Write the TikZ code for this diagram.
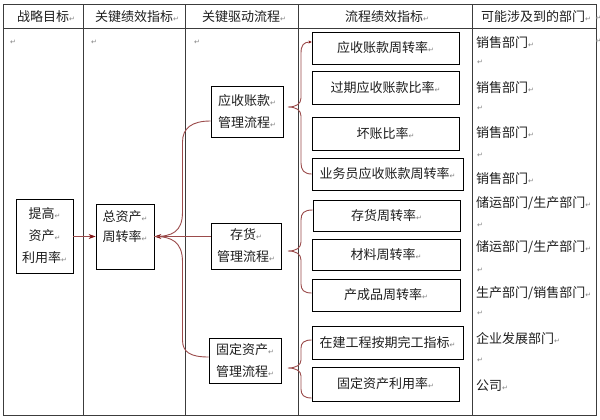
\documentclass[tikz,border=0pt]{standalone}
\usepackage{fontspec}
\setmainfont{Noto Sans CJK SC}
\newfontfamily\djv{DejaVu Sans}
\usetikzlibrary{arrows.meta}
\definecolor{cr}{RGB}{155,75,75}
\definecolor{crd}{RGB}{130,20,20}
\definecolor{gridc}{RGB}{60,60,60}
\definecolor{pmc}{RGB}{130,130,130}
\definecolor{txc}{RGB}{30,30,30}
\newcommand{\pmk}{{\djv\fontsize{7}{7}\selectfont\textcolor{pmc}{↵}}}
\tikzset{
  bx/.style={draw=black, line width=0.8pt, fill=white, inner sep=0pt, align=center,
    font=\fontsize{13}{22}\selectfont, text=txc},
  hd/.style={anchor=west, inner sep=0pt, font=\fontsize{13}{15}\selectfont, text=txc},
  dep/.style={anchor=west, inner sep=0pt, font=\fontsize{13}{15}\selectfont, text=txc},
  pmn/.style={inner sep=0pt},
  tbl/.style={draw=gridc, line width=0.8pt},
  cn/.style={draw=cr, line width=0.9pt},
  tip/.style={-{Stealth[length=7pt,width=5pt,color=crd]}}
}
\begin{document}
\begin{tikzpicture}[x=1pt,y=-1pt]
\useasboundingbox (0,0) rectangle (600,420);
\fill[white] (0,0) rectangle (600,420);
% table
\draw[tbl] (3.5,4.5) rectangle (596,415.5);
\draw[tbl] (3.5,28) -- (596,28);
\foreach \xx in {83,185,298.5,472} \draw[tbl] (\xx,4.5) -- (\xx,415.5);
% header
\node[hd] (h1) at (17,16.5) {战略目标\pmk};
\node[hd] (h2) at (95,16.5) {关键绩效指标\pmk};
\node[hd] (h3) at (202,16.5) {关键驱动流程\pmk};
\node[hd] (h4) at (345,16.5) {流程绩效指标\pmk};
\node[hd] (h5) at (481,16.5) {可能涉及到的部门\pmk};
\node[pmn] (hx) at (598.5,18) {\pmk};
\node[pmn] (rx) at (598.5,41) {\pmk};
% row marks
\node[pmn] (r1) at (13,42) {\pmk};
\node[pmn] (r2) at (94,42) {\pmk};
\node[pmn] (r3) at (197,42) {\pmk};
% boxes
\node[bx, minimum width=57, minimum height=74] (goal) at (44.5,236) {提高\pmk\\资产\pmk\\利用率\pmk};
\node[bx, minimum width=58, minimum height=65, font=\fontsize{13}{20}\selectfont] (kpi) at (125,236.5) {总资产\pmk\\周转率\pmk\\\mbox{}};
\node[bx, minimum width=72, minimum height=51] (p1) at (247,111.5) {应收账款\pmk\\管理流程\pmk};
\node[bx, minimum width=70, minimum height=46] (p2) at (246,246) {存货\pmk\\管理流程\pmk};
\node[bx, minimum width=72, minimum height=45] (p3) at (245,360.5) {固定资产\pmk\\管理流程\pmk};
\node[bx, minimum width=147, minimum height=32] (m1) at (385.5,48) {应收账款周转率\pmk};
\node[bx, minimum width=147, minimum height=33] (m2) at (385.5,87.5) {过期应收账款比率\pmk};
\node[bx, minimum width=147, minimum height=33] (m3) at (385.5,133.5) {坏账比率\pmk};
\node[bx, minimum width=151, minimum height=32] (m4) at (387.5,174) {业务员应收账款周转率\pmk};
\node[bx, minimum width=147, minimum height=31] (m5) at (386.5,215.5) {存货周转率\pmk};
\node[bx, minimum width=148, minimum height=31] (m6) at (386,254.5) {材料周转率\pmk};
\node[bx, minimum width=148, minimum height=32] (m7) at (386,295) {产成品周转率\pmk};
\node[bx, minimum width=151, minimum height=33] (m8) at (387.5,342.5) {在建工程按期完工指标\pmk};
\node[bx, minimum width=147, minimum height=34] (m9) at (385.5,384) {固定资产利用率\pmk};
% departments
\node[dep] (d1) at (476,43) {销售部门\pmk};
\node[pmn] (e1) at (480,62) {\pmk};
\node[dep] (d2) at (476,88) {销售部门\pmk};
\node[pmn] (e2) at (480,108) {\pmk};
\node[dep] (d3) at (476,133) {销售部门\pmk};
\node[pmn] (e3) at (480,155) {\pmk};
\node[dep] (d4) at (476,179) {销售部门\pmk};
\node[dep] (d5) at (476,203) {储运部门/生产部门\pmk};
\node[pmn] (e4) at (480,225) {\pmk};
\node[dep] (d6) at (476,247) {储运部门/生产部门\pmk};
\node[pmn] (e5) at (480,270) {\pmk};
\node[dep] (d7) at (476,293) {生产部门/销售部门\pmk};
\node[pmn] (e6) at (480,313) {\pmk};
\node[dep] (d8) at (476,339) {企业发展部门\pmk};
\node[pmn] (e7) at (480,360) {\pmk};
\node[dep] (d9) at (476,386) {公司\pmk};
% connectors
\draw[cn,tip] (goal.east |- kpi.west) -- (kpi.west);
\draw[cn,tip] (p2.west |- kpi.east) -- (kpi.east);
\draw[cn] ([yshift=-9.5pt]p1.west) .. controls (192,121) and (182.5,128) .. (182.5,142)
  -- (182.5,212) .. controls (182.5,232) and (172,236.5) .. (kpi.east);
\draw[cn] ([yshift=3.5pt]p3.west) .. controls (190,357) and (182.5,352) .. (182.5,340)
  -- (182.5,262) .. controls (182.5,242) and (172,236.5) .. (kpi.east);
% braces
\draw[cn,{Stealth[length=3pt,width=3pt,color=crd]}-] ([yshift=6pt]m1.west) .. controls (304,42) and (301,45) .. (301,53)
  -- (301,98) .. controls (301,104) and (296,107) .. (288,107)
  .. controls (296,107) and (301,110) .. (301,116)
  -- (301,163) .. controls (301,170) and (304,174) .. (m4.west);
\draw[cn] ([yshift=5.5pt]m5.west) .. controls (304,210) and (301,213) .. (301,220)
  -- (301,242) .. controls (301,248) and (296,251) .. (288,251)
  .. controls (296,251) and (301,254) .. (301,260)
  -- (301,284) .. controls (301,290) and (304,293) .. ([yshift=2pt]m7.west);
\draw[cn] ([yshift=2.5pt]m8.west) .. controls (304,340) and (301,343) .. (301,348)
  -- (301,360) .. controls (301,365) and (296,368) .. (288,368)
  .. controls (296,368) and (301,371) .. (301,376)
  -- (301,389) .. controls (301,395) and (304,398) .. ([yshift=-14pt]m9.west);
\end{tikzpicture}
\end{document}
